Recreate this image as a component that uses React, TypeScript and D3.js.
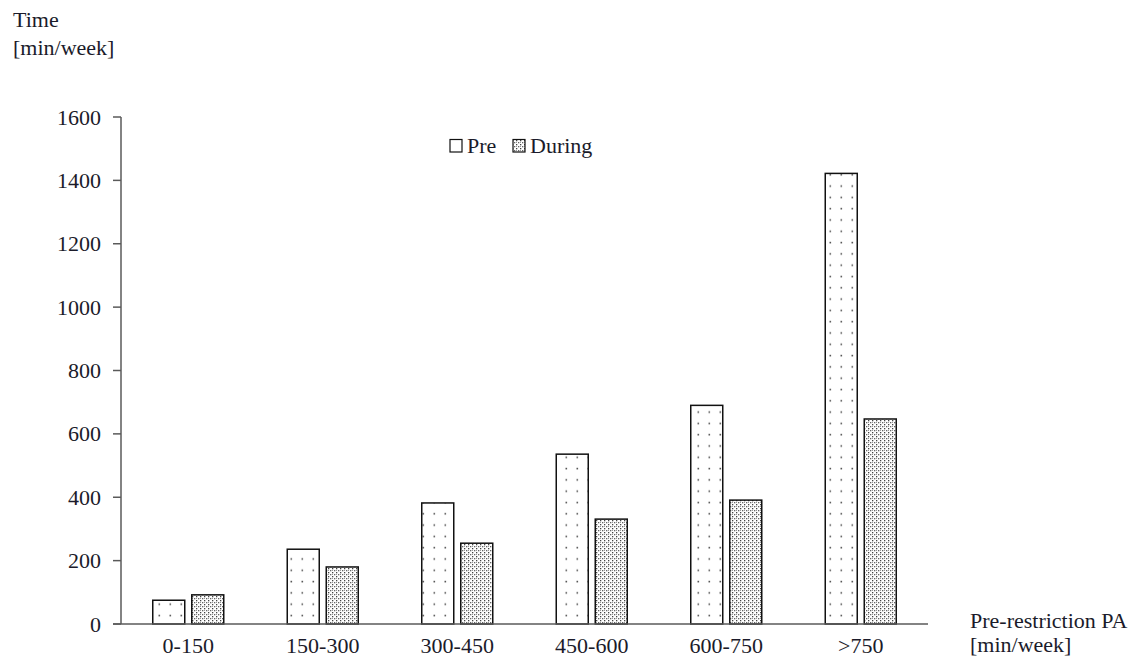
import React from "react";
import * as d3 from "d3";

const categories = ["0-150", "150-300", "300-450", "450-600", "600-750", ">750"];
const preValues = [75, 236, 382, 536, 690, 1422];
const duringValues = [92, 180, 255, 331, 391, 647];
const yTicks = [0, 200, 400, 600, 800, 1000, 1200, 1400, 1600];

export default function App() {
  const W = 1139, H = 658;
  const x0 = 121, x1 = 928, yTop = 117, yBot = 624;
  const x = d3.scaleBand<string>().domain(categories).range([x0, x1]).paddingInner(0).paddingOuter(0);
  const y = d3.scaleLinear().domain([0, 1600]).range([yBot, yTop]);
  const barW = 32, gap = 7;
  const font = "'Liberation Serif', 'Times New Roman', serif";
  const fs = 22;
  const textColor = "#1b1b2a";
  const axisColor = "#5a5a5a";
  return (
    <svg width={W} height={H} style={{ position: "absolute", left: 0, top: 0, background: "#fff" }}>
      <defs>
        <pattern id="prePat" width="11" height="11.3" patternUnits="userSpaceOnUse">
          <rect width="11" height="11.3" fill="#fff" />
          <rect x="4.5" y="4.5" width="1.6" height="1.6" fill="#555" />
        </pattern>
        <pattern id="durPat" width="4" height="4" patternUnits="userSpaceOnUse">
          <rect width="4" height="4" fill="#fff" />
          <rect x="0" y="0" width="1.3" height="1.3" fill="#444" />
          <rect x="2" y="2" width="1.3" height="1.3" fill="#666" />
          <rect x="0" y="2" width="1" height="1" fill="#999" />
        </pattern>
      </defs>
      <text x={13} y={27} fontFamily={font} fontSize={fs} fill={textColor}>Time</text>
      <text x={13} y={55} fontFamily={font} fontSize={fs} fill={textColor}>[min/week]</text>

      {categories.map((c, i) => {
        const cx = (x(c) as number) + x.bandwidth() / 2;
        const preX = cx - gap / 2 - barW;
        const durX = cx + gap / 2;
        return (
          <g key={c}>
            <rect x={preX} y={y(preValues[i])} width={barW} height={yBot - y(preValues[i])} fill="url(#prePat)" stroke="#111" strokeWidth={1.5} />
            <rect x={durX} y={y(duringValues[i])} width={barW} height={yBot - y(duringValues[i])} fill="url(#durPat)" stroke="#111" strokeWidth={1.5} />
            <text x={cx} y={653} textAnchor="middle" fontFamily={font} fontSize={fs} fill={textColor}>{c}</text>
          </g>
        );
      })}

      <line x1={x0} y1={yTop} x2={x0} y2={yBot} stroke={axisColor} strokeWidth={1.5} />
      <line x1={x0 - 8} y1={yBot} x2={x1} y2={yBot} stroke={axisColor} strokeWidth={1.5} />
      {yTicks.map((t) => (
        <g key={t}>
          <line x1={x0 - 8} y1={y(t)} x2={x0} y2={y(t)} stroke={axisColor} strokeWidth={1.5} />
          <text x={101} y={y(t) + 7.5} textAnchor="end" fontFamily={font} fontSize={fs} fill={textColor}>{t}</text>
        </g>
      ))}

      <rect x={450} y={139.5} width={12} height={12.5} fill="#fff" stroke="#111" strokeWidth={1.2} />
      <text x={467} y={153} fontFamily={font} fontSize={fs} fill={textColor}>Pre</text>
      <rect x={513} y={139.5} width={12} height={12.5} fill="url(#durPat)" stroke="#111" strokeWidth={1.2} />
      <text x={530} y={153} fontFamily={font} fontSize={fs} fill={textColor}>During</text>

      <text x={970} y={628} fontFamily={font} fontSize={fs} fill={textColor}>Pre-restriction PA</text>
      <text x={970} y={652} fontFamily={font} fontSize={fs} fill={textColor}>[min/week]</text>
    </svg>
  );
}
